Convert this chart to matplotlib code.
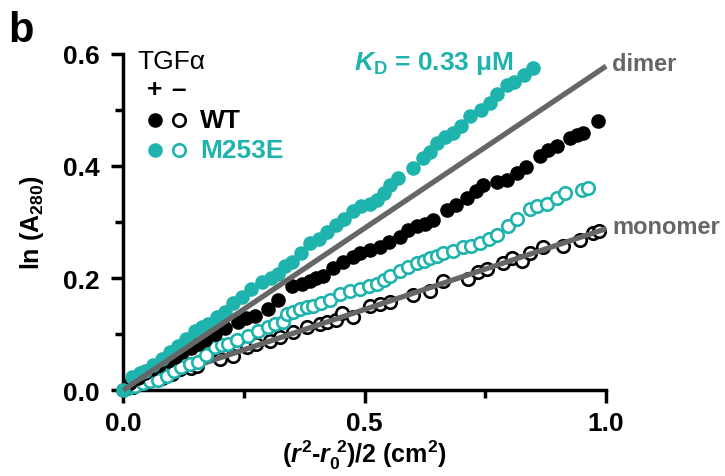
import matplotlib
matplotlib.use("Agg")
from matplotlib import pyplot as plt
from matplotlib.ticker import MultipleLocator

plt.rcParams['font.family'] = ['Liberation Sans', 'DejaVu Sans']
plt.rcParams['font.weight'] = 'bold'
plt.rcParams['axes.labelweight'] = 'bold'
plt.rcParams['mathtext.fontset'] = 'custom'
plt.rcParams['mathtext.rm'] = 'Liberation Sans:bold'
plt.rcParams['mathtext.bf'] = 'Liberation Sans:bold'
plt.rcParams['mathtext.it'] = 'Liberation Sans:bold:italic'

TEAL = '#1fb3ae'
GREY = '#666666'

# M253E + TGFa (filled teal)
m253e_plus_x = [0.0, 0.019, 0.035, 0.046, 0.062, 0.08, 0.097, 0.114, 0.13, 0.149, 0.163, 0.176,
                0.194, 0.211, 0.228, 0.246, 0.265, 0.288, 0.305, 0.321, 0.335, 0.35, 0.368, 0.387,
                0.405, 0.422, 0.44, 0.458, 0.476, 0.492, 0.51, 0.526, 0.54, 0.553, 0.57, 0.6,
                0.621, 0.636, 0.65, 0.667, 0.683, 0.7, 0.718, 0.74, 0.76, 0.775, 0.795, 0.81,
                0.83, 0.849]
m253e_plus_y = [0.0, 0.023, 0.03, 0.034, 0.045, 0.056, 0.068, 0.079, 0.092, 0.106, 0.112, 0.118,
                0.13, 0.14, 0.155, 0.167, 0.18, 0.193, 0.2, 0.208, 0.222, 0.229, 0.245, 0.262,
                0.27, 0.283, 0.295, 0.305, 0.319, 0.328, 0.332, 0.339, 0.352, 0.366, 0.378, 0.396,
                0.414, 0.425, 0.441, 0.452, 0.459, 0.472, 0.489, 0.5, 0.513, 0.528, 0.545, 0.55,
                0.563, 0.575]

# WT + TGFa (filled black)
wt_plus_x = [0.0, 0.015, 0.03, 0.045, 0.06, 0.075, 0.093, 0.108, 0.122, 0.14, 0.155, 0.17, 0.19,
             0.21, 0.238, 0.255, 0.273, 0.3, 0.321, 0.35, 0.37, 0.387, 0.4, 0.414, 0.435, 0.456,
             0.475, 0.49, 0.51, 0.532, 0.55, 0.573, 0.59, 0.609, 0.625, 0.642, 0.67, 0.69, 0.712,
             0.73, 0.745, 0.774, 0.795, 0.816, 0.835, 0.863, 0.88, 0.898, 0.925, 0.94, 0.952, 0.983]
wt_plus_y = [0.0, 0.012, 0.022, 0.03, 0.038, 0.045, 0.052, 0.06, 0.068, 0.075, 0.082, 0.09, 0.1,
             0.11, 0.122, 0.128, 0.133, 0.145, 0.16, 0.186, 0.19, 0.195, 0.2, 0.204, 0.218, 0.229,
             0.238, 0.244, 0.25, 0.256, 0.265, 0.274, 0.285, 0.292, 0.296, 0.303, 0.321, 0.33, 0.342,
             0.355, 0.366, 0.372, 0.375, 0.387, 0.398, 0.418, 0.428, 0.435, 0.45, 0.455, 0.459, 0.48]

# M253E - TGFa (open teal)
m253e_minus_x = [0.01, 0.025, 0.04, 0.055, 0.072, 0.09, 0.105, 0.12, 0.138, 0.155, 0.172, 0.19,
                 0.205, 0.217, 0.235, 0.259, 0.28, 0.3, 0.315, 0.33, 0.339, 0.352, 0.366, 0.38,
                 0.393, 0.41, 0.429, 0.449, 0.47, 0.49, 0.508, 0.526, 0.54, 0.553, 0.573, 0.59,
                 0.609, 0.622, 0.636, 0.65, 0.663, 0.683, 0.704, 0.72, 0.739, 0.757, 0.774, 0.797,
                 0.816, 0.843, 0.857, 0.878, 0.898, 0.915, 0.95, 0.963]
m253e_minus_y = [0.004, 0.008, 0.012, 0.016, 0.018, 0.026, 0.034, 0.042, 0.046, 0.05, 0.063, 0.077,
                 0.08, 0.082, 0.09, 0.097, 0.106, 0.113, 0.118, 0.122, 0.136, 0.139, 0.145, 0.148,
                 0.151, 0.155, 0.16, 0.172, 0.176, 0.181, 0.185, 0.19, 0.197, 0.203, 0.213, 0.22,
                 0.226, 0.23, 0.235, 0.24, 0.244, 0.249, 0.256, 0.258, 0.262, 0.27, 0.276, 0.292,
                 0.306, 0.324, 0.328, 0.333, 0.342, 0.351, 0.357, 0.36]

# WT - TGFa (open black)
wt_minus_x = [0.02, 0.05, 0.08, 0.1, 0.118, 0.14, 0.153, 0.2, 0.228, 0.256, 0.275, 0.304, 0.325,
              0.352, 0.381, 0.408, 0.422, 0.44, 0.453, 0.476, 0.511, 0.532, 0.553, 0.6, 0.636,
              0.663, 0.714, 0.735, 0.753, 0.787, 0.805, 0.826, 0.843, 0.87, 0.911, 0.946, 0.973,
              0.985]
wt_minus_y = [0.006, 0.015, 0.022, 0.028, 0.038, 0.04, 0.043, 0.056, 0.061, 0.077, 0.082, 0.088,
              0.095, 0.104, 0.113, 0.118, 0.122, 0.125, 0.138, 0.131, 0.151, 0.154, 0.158, 0.169,
              0.177, 0.194, 0.199, 0.211, 0.217, 0.226, 0.235, 0.231, 0.244, 0.256, 0.258, 0.267,
              0.28, 0.284]

# reference lines
line_x = [0.0, 1.0]
dimer_y = [0.0, 0.578]
monomer_y = [0.0, 0.288]

fig = plt.figure(figsize=(7.25, 4.77), dpi=100)
ax = fig.add_axes([0.17, 0.18, 0.666, 0.705])

ms_fill = 10.5
ms_open = 9
mew = 1.9

ax.plot(wt_minus_x, wt_minus_y, 'o', ms=ms_open, mfc='white', mec='black', mew=mew,
        zorder=2, clip_on=False)
ax.plot(line_x, monomer_y, color=GREY, lw=3.8, zorder=2.5, solid_capstyle='butt', clip_on=False)
ax.plot(m253e_minus_x, m253e_minus_y, 'o', ms=ms_open, mfc='white', mec=TEAL, mew=mew,
        zorder=3, clip_on=False)
ax.plot(wt_plus_x, wt_plus_y, 'o', ms=ms_fill, color='black', mew=0, zorder=3, clip_on=False)
ax.plot(m253e_plus_x, m253e_plus_y, 'o', ms=ms_fill, color=TEAL, mew=0, zorder=3, clip_on=False)
ax.plot(line_x, dimer_y, color=GREY, lw=3.8, zorder=4, solid_capstyle='butt', clip_on=False)

ax.set_xlim(0, 1.0)
ax.set_ylim(0, 0.6)
ax.xaxis.set_major_locator(MultipleLocator(0.5))
ax.xaxis.set_minor_locator(MultipleLocator(0.25))
ax.yaxis.set_major_locator(MultipleLocator(0.2))
ax.yaxis.set_minor_locator(MultipleLocator(0.1))
ax.xaxis.set_major_formatter(plt.FuncFormatter(lambda v, p: f"{v:.1f}"))
ax.yaxis.set_major_formatter(plt.FuncFormatter(lambda v, p: f"{v:.1f}"))

for s in ['top', 'right']:
    ax.spines[s].set_visible(False)
for s in ['left', 'bottom']:
    ax.spines[s].set_linewidth(2.5)
ax.tick_params(which='major', length=9, width=2.5, labelsize=19)
ax.tick_params(axis='y', which='major', pad=8)
ax.tick_params(axis='x', which='major', pad=6)
ax.tick_params(which='minor', length=6, width=2.5)

ax.set_xlabel(r"($\mathit{r}^2$-$\mathit{r}_0^{\ 2}$)/2 (cm$^2$)", fontsize=18, labelpad=2)
ax.set_ylabel(r"ln (A$_{280}$)", fontsize=18, labelpad=12)

# annotations
ax.text(1.012, 0.582, "dimer", color=GREY, fontsize=17, va='center', ha='left')
ax.text(1.012, 0.292, "monomer", color=GREY, fontsize=17, va='center', ha='left')
ax.text(0.478, 0.584, r"$\mathit{K}_\mathrm{D}$ = 0.33 μM", color=TEAL, fontsize=19,
        va='center', ha='left')

# legend built by hand
ax.text(0.029, 0.588, "TGFα", fontsize=19, fontweight='normal', va='center', ha='left')
ax.text(0.066, 0.538, "+", fontsize=19, va='center', ha='center')
ax.text(0.114, 0.538, "–", fontsize=19, va='center', ha='center')
ax.plot([0.066], [0.482], 'o', ms=ms_fill, color='black', mew=0, clip_on=False)
ax.plot([0.116], [0.482], 'o', ms=ms_open, mfc='white', mec='black', mew=mew, clip_on=False)
ax.text(0.159, 0.482, "WT", fontsize=19, va='center', ha='left')
ax.plot([0.066], [0.428], 'o', ms=ms_fill, color=TEAL, mew=0, clip_on=False)
ax.plot([0.116], [0.428], 'o', ms=ms_open, mfc='white', mec=TEAL, mew=mew, clip_on=False)
ax.text(0.159, 0.428, "M253E", color=TEAL, fontsize=19, va='center', ha='left')

fig.text(0.012, 0.935, "b", fontsize=30, fontweight='bold', va='center', ha='left')

fig.savefig("out.png", dpi=100)
